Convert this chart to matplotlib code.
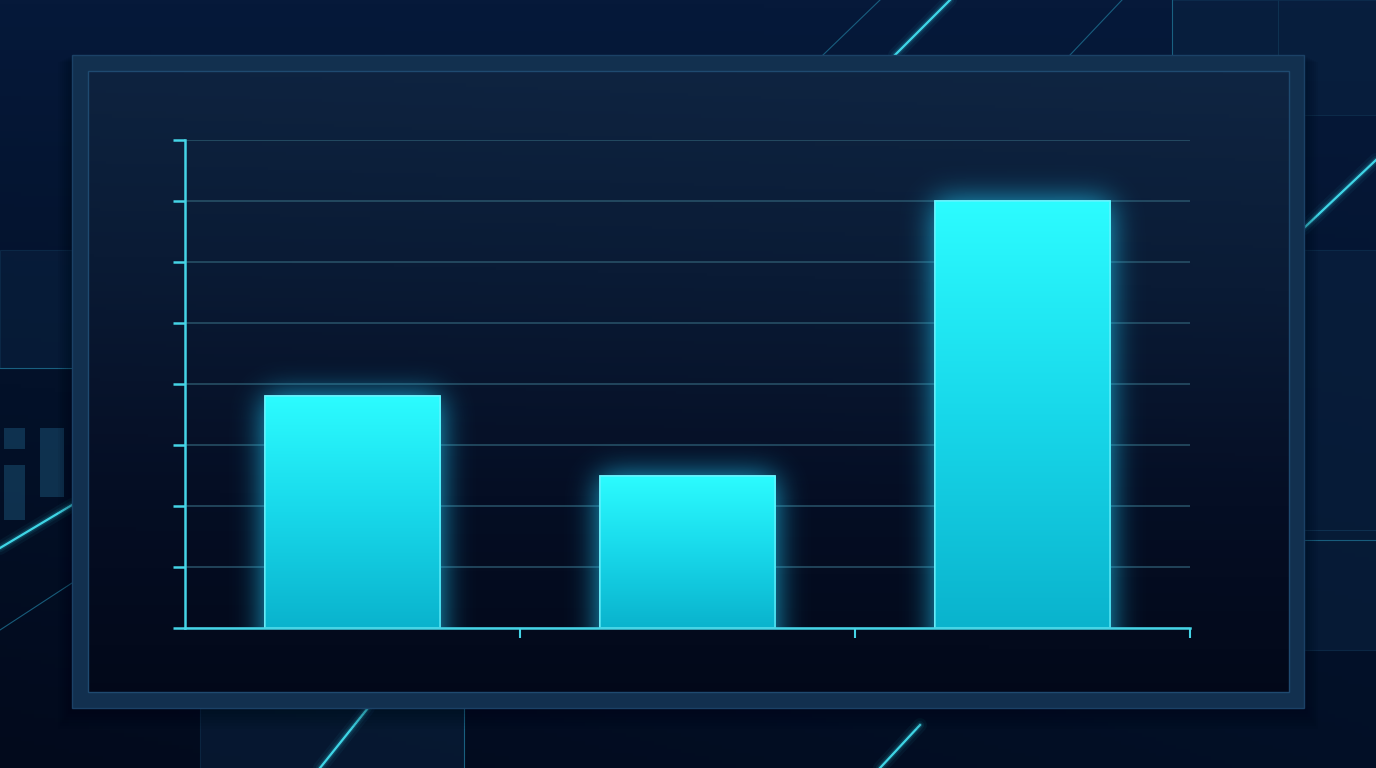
import numpy as np
import matplotlib
matplotlib.use("Agg")
import matplotlib.pyplot as plt
from matplotlib.patches import Rectangle
from matplotlib.colors import LinearSegmentedColormap

# data (no labels shown in the reference)
categories = ["A", "B", "C"]
values = [3.8, 2.5, 7.0]
y_ticks = [0, 1, 2, 3, 4, 5, 6, 7, 8]

W, H = 1376, 768
fig = plt.figure(figsize=(W / 100, H / 100), dpi=100)

# ---- background layer in pixel coords ----
bg = fig.add_axes([0, 0, 1, 1])
bg.set_xlim(0, W)
bg.set_ylim(H, 0)
bg.axis("off")
bgcmap = LinearSegmentedColormap.from_list("bg", ["#06193a", "#031129", "#020a1c"])
yy, xx = np.mgrid[0:1:200j, 0:1:200j]
bg.imshow(0.6 * yy + 0.4 * (1 - xx) * yy, cmap=bgcmap, extent=[0, W, H, 0],
          aspect="auto", zorder=0)

# faint boxes behind the panel
for (x0, y0, w, h) in [(1172, 0, 106, 55), (1278, 0, 98, 115), (0, 250, 72, 118),
                       (200, 708, 264, 60), (1304, 250, 72, 280), (1304, 530, 72, 120)]:
    bg.add_patch(Rectangle((x0, y0), w, h, facecolor="#0a2442", edgecolor="#123a5a",
                           lw=0.8, alpha=0.5, zorder=1))
for (x0, y0, w, h) in [(4, 428, 21, 21), (4, 465, 21, 55), (40, 428, 24, 69)]:
    bg.add_patch(Rectangle((x0, y0), w, h, facecolor="#17486a", alpha=0.6, zorder=1))

# thin lines
for (x0, y0, x1, y1) in [(823, 55, 880, 0), (1070, 55, 1122, 0), (1172, 0, 1172, 55),
                         (0, 630, 72, 583), (464, 708, 464, 768), (0, 368, 72, 368),
                         (1304, 540, 1376, 540)]:
    bg.plot([x0, x1], [y0, y1], color="#1d6f90", lw=0.8, alpha=0.8, zorder=1.2)

# glowing diagonal lines
for (x0, y0, x1, y1) in [(895, 55, 950, 0), (1304, 228, 1376, 160),
                         (0, 548, 72, 505), (320, 768, 368, 708), (880, 768, 920, 725)]:
    for lw, a in [(10, 0.05), (6, 0.08), (3.5, 0.15)]:
        bg.plot([x0, x1], [y0, y1], color="#2fd8f0", lw=lw, alpha=a,
                solid_capstyle="round", zorder=1.3)
    bg.plot([x0, x1], [y0, y1], color="#45e6f6", lw=1.6, alpha=0.9, zorder=1.3)

# panel frame
for k in range(8):
    bg.add_patch(Rectangle((72 - k * 2, 55 + k), 1232 + k * 4, 653 + k * 2,
                           facecolor="#000510", alpha=0.05, lw=0, zorder=2))
bg.add_patch(Rectangle((72, 55), 1232, 653, facecolor="#12304f", edgecolor="#1b4166",
                       lw=1, zorder=3))
pcmap = LinearSegmentedColormap.from_list("panel", ["#0f2542", "#0a1b35", "#050e24", "#020818"])
py, px = np.mgrid[0:1:200j, 0:1:200j]
bg.imshow(py + 0.08 * (1 - px) * (1 - py), cmap=pcmap, extent=[88, 1289, 692, 71],
          aspect="auto", vmin=0, vmax=1.05, zorder=4)
bg.add_patch(Rectangle((88, 71), 1201, 621, facecolor="none", edgecolor="#1f4a70",
                       lw=1, zorder=5))
bg.set_xlim(0, W)
bg.set_ylim(H, 0)

# ---- chart ----
left, right, top, bottom = 185, 1190, 140, 628
ax = fig.add_axes([left / W, 1 - bottom / H, (right - left) / W, (bottom - top) / H])
ax.patch.set_alpha(0)

x = np.arange(len(categories)) + 0.5
bw = 0.525
ymax = y_ticks[-1]
nx, ny = right - left, bottom - top
dx = len(categories) / nx
dy = ymax / ny

ax.set_yticks(y_ticks)
ax.set_xticks(np.arange(1, len(categories) + 1))
ax.set_xticklabels([])
ax.set_yticklabels([])
ax.grid(axis="y", color="#2d5a70", lw=1.1, alpha=0.9)
ax.set_axisbelow(True)
for s in ["top", "right"]:
    ax.spines[s].set_visible(False)
for s in ["left", "bottom"]:
    ax.spines[s].set_color("#45d4e6")
    ax.spines[s].set_linewidth(1.8)
ax.tick_params(axis="y", length=9, width=1.8, color="#45d4e6")
ax.tick_params(axis="x", length=7, width=1.5, color="#45d4e6")

# soft glow: blurred bar mask
ext = 80
xs = (np.arange(nx) + 0.5) * dx
ys = (np.arange(-ext, ny) + 0.5) * dy
mask = np.zeros((len(ys), nx))
for xi, v in zip(x, values):
    mask[np.ix_(ys < v, np.abs(xs - xi) < bw / 2)] = 1.0
t = np.arange(-55, 56)
kern = np.exp(-t ** 2 / (2 * 15.0 ** 2))
kern /= kern.sum()
blur = np.apply_along_axis(lambda r: np.convolve(r, kern, mode="same"), 1, mask)
blur = np.apply_along_axis(lambda c: np.convolve(c, kern, mode="same"), 0, blur)
blur = blur[ext:]
glow = np.zeros((ny, nx, 4))
glow[..., 0], glow[..., 1], glow[..., 2] = 0.12, 0.75, 0.92
glow[..., 3] = np.clip(blur * 0.9, 0, 1)
ax.imshow(glow, origin="lower", extent=[0, len(categories), 0, ymax], aspect="auto",
          zorder=1.5, interpolation="bilinear")

bars = ax.bar(x, values, bw, color="#1ee0f0", edgecolor="#6ff6ff", lw=1.2, zorder=2)
barcmap = LinearSegmentedColormap.from_list("bar", ["#0ab3cd", "#18d8ea", "#2cfcff"])
grad = np.linspace(0, 1, 256).reshape(-1, 1)
for rect in bars:
    x0 = rect.get_x()
    h = rect.get_height()
    im = ax.imshow(grad, cmap=barcmap, origin="lower", aspect="auto",
                   extent=[x0, x0 + rect.get_width(), 0, h], zorder=2.1)
    im.set_clip_path(rect)
for rect in bars:
    ax.add_patch(Rectangle((rect.get_x(), 0), rect.get_width(), rect.get_height(),
                           facecolor="none", edgecolor="#70f4ff", lw=1.2, alpha=0.7, zorder=2.2))

ax.set_xlim(0, len(categories))
ax.set_ylim(0, ymax)

fig.savefig("out.png", dpi=100)
